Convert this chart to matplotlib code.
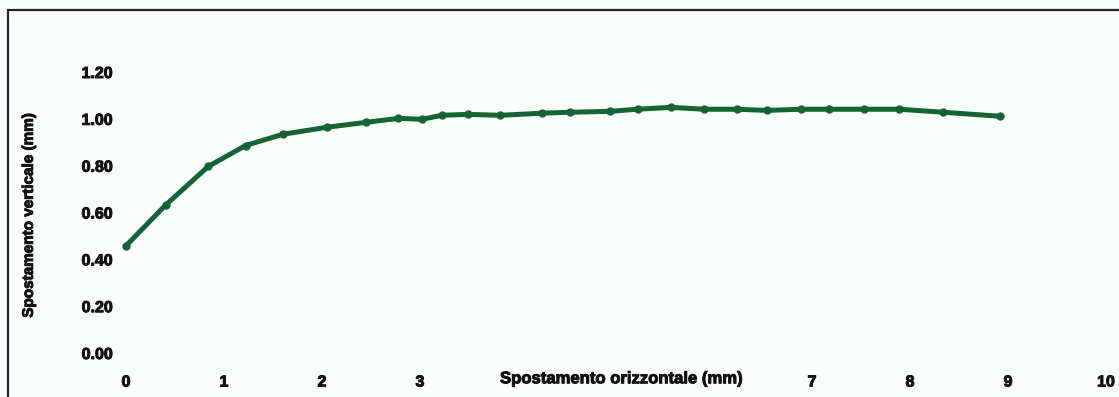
import matplotlib.pyplot as plt
import matplotlib.patheffects as pe
from matplotlib.patches import Rectangle

# spostamento orizzontale (mm) / verticale (mm)
x_mm = [0.00, 0.41, 0.84, 1.22, 1.60, 2.05, 2.45, 2.78, 3.02, 3.22, 3.49,
        3.82, 4.24, 4.53, 4.94, 5.22, 5.56, 5.90, 6.23, 6.54, 6.89, 7.17,
        7.53, 7.89, 8.34, 8.92]
y_mm = [0.458, 0.634, 0.797, 0.886, 0.934, 0.964, 0.985, 1.002, 0.998, 1.015,
        1.019, 1.015, 1.024, 1.028, 1.032, 1.041, 1.049, 1.041, 1.041, 1.036,
        1.041, 1.041, 1.041, 1.041, 1.028, 1.011]

xticks = [0, 1, 2, 3, 4, 5, 6, 7, 8, 9, 10]
xticklabels = ['0', '1', '2', '3', '', '', '', '7', '8', '9', '10']
yticks = [0.0, 0.2, 0.4, 0.6, 0.8, 1.0, 1.2]

plt.rcParams['font.family'] = ['Liberation Sans', 'DejaVu Sans']
plt.rcParams['font.weight'] = 'bold'

ink = '#111111'
heavy = [pe.withStroke(linewidth=0.7, foreground=ink)]

fig = plt.figure(figsize=(11.19, 3.97), dpi=100)
fig.patch.set_facecolor('#fbfcfc')

ax = fig.add_axes([126/1119, 44/397, 980/1119, 281/397])
ax.set_facecolor('none')
ax.plot(x_mm, y_mm, color='#146434', lw=3.6, marker='o', ms=5,
        solid_capstyle='round', clip_on=False)

ax.set_xlim(0, 10)
ax.set_ylim(0, 1.2)
ax.set_xticks(xticks)
ax.set_xticklabels(xticklabels)
ax.set_yticks(yticks)
ax.set_yticklabels(['%.2f' % v for v in yticks])
ax.tick_params(length=0, labelsize=11.5, colors=ink)
ax.tick_params(axis='x', pad=15.5)
ax.tick_params(axis='y', pad=9.5)
for s in ax.spines.values():
    s.set_visible(False)
for t in ax.get_xticklabels() + ax.get_yticklabels():
    t.set_path_effects(heavy)

ax.set_ylabel('Spostamento verticale (mm)', fontsize=11, fontweight='bold',
              color=ink, path_effects=heavy)
ax.yaxis.set_label_coords(-0.092, 0.49)
ax.text(5.05, -0.11, 'Spostamento orizzontale (mm)', ha='center', va='center',
        fontsize=12, fontweight='bold', color=ink, path_effects=heavy,
        transform=ax.transData, clip_on=False)

# cornice
fig.patches.append(Rectangle((8/1119, -0.1), 1.2, 1 - 10/397 + 0.1,
                             transform=fig.transFigure, fill=False,
                             edgecolor='#222222', lw=1.6))

fig.savefig('out.png', dpi=100, facecolor=fig.get_facecolor())
